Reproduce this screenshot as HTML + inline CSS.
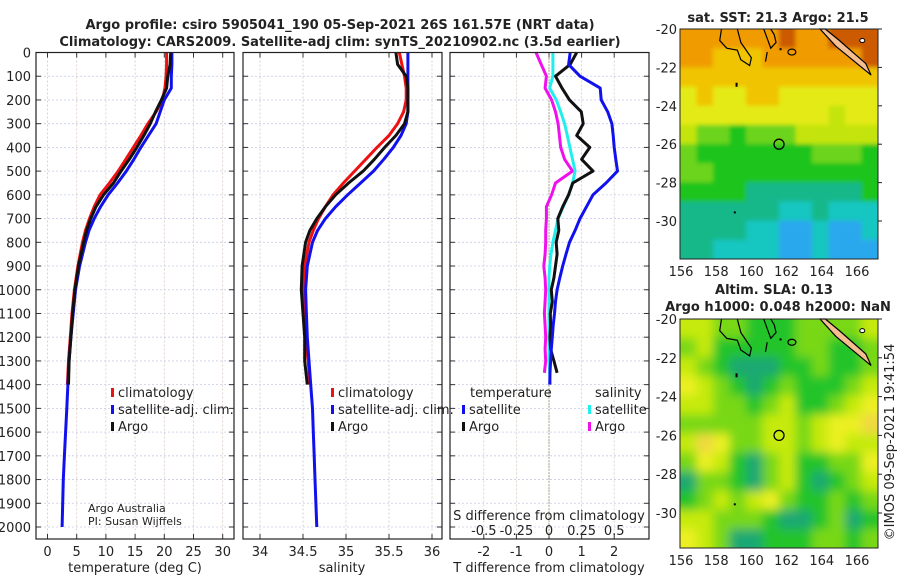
<!DOCTYPE html>
<html><head><meta charset="utf-8"><style>
html,body{margin:0;padding:0;background:#fff;width:900px;height:580px;overflow:hidden}
svg{display:block;font-family:"DejaVu Sans","Liberation Sans",sans-serif}
</style></head><body>
<svg id="c" width="900" height="580" viewBox="0 0 900 580">
<defs>
<filter id="blurS" x="-5%" y="-5%" width="110%" height="110%"><feGaussianBlur stdDeviation="2"/></filter>
<filter id="blurL" x="-5%" y="-5%" width="110%" height="110%"><feGaussianBlur stdDeviation="5"/></filter>
<clipPath id="clipSST"><rect x="680" y="29" width="198" height="230"/></clipPath>
<clipPath id="clipSLA"><rect x="680" y="319" width="198" height="229"/></clipPath>
</defs>
</svg>
<script>
// ---------- data ----------
const depthA = [0,50,100,150,200,250,300,350,400,450,500,550,600,650,700,750,800,900,1000,1100,1200,1300,1400];
const depthB = [0,50,100,150,200,250,300,350,400,450,500,550,600,650,700,750,800,900,1000,1100,1200,1300,1400,1500,1600,1700,1800,1900,2000];
const tClim = [20.4,20.4,20.3,20.1,19.7,18.6,17.2,16.0,14.7,13.4,12.1,10.6,9.0,8.0,7.2,6.5,6.0,5.2,4.6,4.2,3.9,3.6,3.4];
const tArgo = [21.1,21.0,20.6,20.4,19.5,18.5,17.6,16.5,15.3,14.0,12.6,11.3,9.6,8.3,7.4,6.7,6.2,5.3,4.7,4.3,4.0,3.7,3.6];
const tSat = [21.3,21.3,21.2,21.2,20.0,19.3,18.6,17.3,16.0,14.8,13.5,12.0,10.4,9.1,8.0,7.1,6.5,5.5,4.8,4.4,4.0,3.7,3.5,3.3,3.1,2.9,2.7,2.6,2.5];
const sClim = [35.62,35.65,35.68,35.70,35.70,35.67,35.60,35.50,35.36,35.23,35.10,34.97,34.85,34.76,34.68,34.62,34.57,34.52,34.50,34.51,34.53,34.56,34.58];
const sArgo = [35.58,35.60,35.70,35.72,35.72,35.72,35.68,35.58,35.45,35.33,35.20,35.03,34.88,34.76,34.66,34.58,34.53,34.49,34.48,34.50,34.52,34.52,34.55];
const sSat = [35.72,35.72,35.72,35.72,35.72,35.72,35.70,35.64,35.55,35.44,35.32,35.17,35.02,34.88,34.76,34.67,34.61,34.55,34.53,34.54,34.55,34.57,34.59,34.61,34.62,34.63,34.64,34.65,34.66];
const depthD = [0,50,100,150,200,250,300,350,400,450,500,550,600,650,700,750,800,850,900,950,1000,1050,1100,1150,1200,1250,1300,1350,1400];
const tDiffSat = [0.65,0.6,0.95,1.57,1.6,1.8,1.93,1.97,2.0,2.05,2.1,1.75,1.35,1.15,0.95,0.8,0.63,0.52,0.42,0.33,0.25,0.2,0.17,0.13,0.1,0.07,0.05,0.03,0.02];
const tDiffArgo = [0.85,0.65,0.2,0.4,0.63,0.99,1.05,0.85,1.25,1.0,1.35,0.73,0.6,0.42,0.27,0.3,0.22,0.25,0.2,0.15,0.07,0.1,0.04,0.05,0.03,0.05,0.15,0.25];
const sDiffSat = [0.03,0.03,0.03,0.005,0.056,0.09,0.12,0.14,0.16,0.18,0.2,0.18,0.15,0.11,0.07,0.05,0.03,0.015,0.005,0,0,0,0,0,0,0,0,0.005,0.01];
const sDiffArgo = [-0.1,-0.06,-0.02,-0.03,0.02,0.05,0.07,0.08,0.09,0.12,0.18,0.05,0.02,-0.02,-0.02,-0.025,-0.025,-0.03,-0.04,-0.03,-0.025,-0.03,-0.035,-0.03,-0.025,-0.03,-0.025,-0.035];
const depthTicks = [0,100,200,300,400,500,600,700,800,900,1000,1100,1200,1300,1400,1500,1600,1700,1800,1900,2000];
const tTicks = [0,5,10,15,20,25,30];
const sTicks = [34,34.5,35,35.5,36];
const tdTicks = [-2,-1,0,1,2];
const sdTicks = [-0.5,-0.25,0,0.25,0.5];
const latTicks = [-20,-22,-24,-26,-28,-30];
const lonTicks = [156,158,160,162,164,166];
const sstGrid = [
[9,9,9,9,9,9,10,9,9,10,10,10],
[9,9,8,8,8,9,9,9,9,9,9,10],
[8,8,8,8,8,8,8,8,8,8,8,8],
[7,8,7,7,8,8,7,7,7,7,7,7],
[7,7,7,7,7,7,7,7,7,6,7,7],
[6,5,5,4,5,5,5,6,6,6,6,6],
[5,4,4,4,4,4,4,4,5,5,5,4],
[5,5,4,4,4,4,4,4,4,4,4,4],
[4,4,4,4,3,3,3,3,3,3,3,4],
[3,3,3,3,3,3,2,2,3,2,2,2],
[3,3,3,3,2,2,1,1,2,1,1,2],
[3,3,2,2,2,2,1,1,2,1,1,1]];
const slaGrid = [
[6,6,5,5,4,4,4,5,5,5,5,6],
[5,6,4,4,4,4,4,5,5,4,4,5],
[6,5,4,3,3,3,4,4,5,4,4,5],
[7,6,5,4,3,4,5,4,4,4,5,6],
[6,6,5,5,4,5,6,4,4,5,6,7],
[5,5,5,5,5,6,6,5,6,7,7,8],
[6,8,7,5,5,6,6,5,6,7,6,6],
[5,7,6,4,3,5,6,4,4,5,5,7],
[3,5,5,4,3,5,6,4,3,4,5,6],
[4,5,6,5,6,7,5,4,4,5,4,5],
[6,6,5,5,5,4,3,3,4,5,3,4],
[7,6,5,3,3,4,4,4,5,5,4,5]];
const sstColors = ['#1e6ee8','#2aa8ee','#12c6c0','#18b88a','#1ec41e','#6cd41a','#c4e40c','#e4ea14','#f0c400','#f09c00','#cc5a00'];
const slaColors = ['#1e6ee8','#2aa8ee','#12c6c0','#1aa872','#22c42a','#78d818','#c6ea10','#ecf020','#f0d840'];

// ---------- helpers ----------
const svg = document.getElementById('c');
const NS = 'http://www.w3.org/2000/svg';
function mk(tag, attrs, parent){const e=document.createElementNS(NS,tag);for(const k in attrs)e.setAttribute(k,attrs[k]);(parent||svg).appendChild(e);return e;}
function txt(s,x,y,size,anchor,weight,parent){const t=mk('text',{x:x,y:y,'font-size':size,'text-anchor':anchor||'middle','font-weight':weight||'normal',fill:'#222'},parent);t.textContent=s;return t;}
const Y0=52.5, YS=(527-52.5)/2000, PB=539;
const yD = d => Y0 + d*YS;
const xT = v => 47.5 + v*(222.7-47.5)/30;
const xS = v => 260 + (v-34)*86;
const xTD = v => 549 + v*32.6;
const xSD = v => 549 + v*130.4;

function panel(x0,x1,name){
  const g=mk('g',{});
  
  
  depthTicks.forEach(d=>{mk('line',{x1:x0,x2:x1,y1:yD(d),y2:yD(d),stroke:'#c8cce8','stroke-width':0.8,'stroke-dasharray':'2,2'},g);
    mk('line',{x1:x0,x2:x0+5,y1:yD(d),y2:yD(d),stroke:'#333'},g);mk('line',{x1:x1-5,x2:x1,y1:yD(d),y2:yD(d),stroke:'#333'},g);});
  return g;
}
function vgrid(g,ticks,fx){ticks.forEach(v=>{const x=fx(v);mk('line',{x1:x,x2:x,y1:Y0,y2:PB,stroke:'#d8c8c0','stroke-width':0.8,'stroke-dasharray':'2,2'},g);
  mk('line',{x1:x,x2:x,y1:PB-5,y2:PB,stroke:'#333'},g);mk('line',{x1:x,x2:x,y1:Y0,y2:Y0+5,stroke:'#333'},g);});}
function frame(g,x0,x1){mk('rect',{x:x0,y:Y0,width:x1-x0,height:PB-Y0,fill:'none',stroke:'#222','stroke-width':1.2},g);}
function line(g,xs,ds,fx,color,name,w){
  const pts=xs.map((v,i)=>fx(v).toFixed(1)+','+yD(ds[i]).toFixed(1)).join(' ');
  const p=mk('polyline',{points:pts,fill:'none',stroke:color,'stroke-width':w||3,'stroke-linejoin':'round'},g);
  
  
}
function legend(g,x,y,color,label,name){
  mk('rect',{x:x,y:y-9,width:3,height:9,fill:color},g);
  const t=txt(label,x+7,y,13,'start','normal',g);
  
  
}

// titles
let t=txt('Argo profile: csiro 5905041_190 05-Sep-2021 26S 161.57E (NRT data)',340,29,13,'middle','bold');


t=txt('Climatology: CARS2009. Satellite-adj clim: synTS_20210902.nc (3.5d earlier)',340,46,13,'middle','bold');



// panel 1 temperature
let g=panel(36,234,'temperature-panel');
vgrid(g,tTicks,xT);
depthTicks.forEach(d=>txt(String(d),31,yD(d)+5,13,'end','normal',g));
tTicks.forEach(v=>txt(String(v),xT(v),556,13,'middle','normal',g));
t=txt('temperature (deg C)',135,572,13,'middle','normal',g);


line(g,tClim,depthA,xT,'#ee1111','temperature-climatology-line');
line(g,tSat,depthB,xT,'#1111ee','temperature-satellite-adj-line');
line(g,tArgo,depthA,xT,'#111','temperature-argo-line');
frame(g,36,234);
legend(g,111,397,'#ee1111','climatology','legend-climatology');
legend(g,111,414,'#1111ee','satellite-adj. clim.','legend-satellite-adj');
legend(g,111,431,'#111','Argo','legend-argo');
txt('Argo Australia',88,512,11,'start','normal',g);
txt('PI: Susan Wijffels',88,525,11,'start','normal',g);

// panel 2 salinity
g=panel(243,442,'salinity-panel');
vgrid(g,sTicks,xS);
sTicks.forEach(v=>txt(String(v),xS(v),556,13,'middle','normal',g));
t=txt('salinity',342,572,13,'middle','normal',g);


line(g,sClim,depthA,xS,'#ee1111','salinity-climatology-line');
line(g,sSat,depthB,xS,'#1111ee','salinity-satellite-adj-line');
line(g,sArgo,depthA,xS,'#111','salinity-argo-line');
frame(g,243,442);
legend(g,331,397,'#ee1111','climatology','legend-s-climatology');
legend(g,331,414,'#1111ee','satellite-adj. clim.','legend-s-satellite-adj');
legend(g,331,431,'#111','Argo','legend-s-argo');

// panel 3 differences
g=panel(450,649,'difference-panel');
vgrid(g,tdTicks,xTD);
mk('line',{x1:549,x2:549,y1:Y0,y2:PB,stroke:'#556b2f','stroke-width':1,'stroke-dasharray':'1,2'},g);
tdTicks.forEach(v=>txt(String(v),xTD(v),556,13,'middle','normal',g));
sdTicks.forEach(v=>txt(String(v),xSD(v),535,13,'middle','normal',g));
txt('S difference from climatology',549,520,13,'middle','normal',g);
t=txt('T difference from climatology',549,572,13,'middle','normal',g);


line(g,sDiffArgo,depthD.slice(0,sDiffArgo.length),xSD,'#ee11ee','salinity-argo-diff-line');
line(g,sDiffSat,depthD,xSD,'#22eeee','salinity-satellite-diff-line');
line(g,tDiffArgo,depthD.slice(0,tDiffArgo.length),xTD,'#111','temperature-argo-diff-line');
line(g,tDiffSat,depthD,xTD,'#1111ee','temperature-satellite-diff-line');
txt('temperature',470,397,13,'start','normal',g);
txt('salinity',595,397,13,'start','normal',g);
legend(g,462,414,'#1111ee','satellite','legend-t-satellite');
legend(g,462,431,'#111','Argo','legend-t-argo');
legend(g,588,414,'#22eeee','satellite','legend-s-satellite');
legend(g,588,431,'#ee11ee','Argo','legend-s-argo-diff');
frame(g,450,649);

// maps
function map(top,bottom,grid,colors,name,latScale,clipId,blurId){
  const mx0=680,mx1=878;
  const mg=mk('g',{});
  
  
  const cg=mk('g',{'clip-path':'url(#'+clipId+')'},mg);
  const bg=mk('g',{filter:'url(#'+blurId+')'},cg);
  const cw=(mx1-mx0)/grid[0].length, ch=(bottom-top)/grid.length;
  grid.forEach((row,r)=>row.forEach((v,c)=>{
    const x=mx0+c*cw - (c===0?10:0), w=cw+0.5+(c===0?10:0)+(c===grid[0].length-1?10:0);
    const y=top+r*ch - (r===0?10:0), h=ch+0.5+(r===0?10:0)+(r===grid.length-1?10:0);
    const cell=mk('rect',{x:x,y:y,width:w,height:h,fill:colors[v]},bg);
    
    
  }));
  const lx=v=>681+(v-156)*17.6, ly=v=>top+(-20-v)*latScale;
  // coastlines
  mk('path',{d:`M${lx(158.3)},${top} L${lx(158.2)},${ly(-20.6)} L${lx(158.6)},${ly(-21.0)} L${lx(159.2)},${ly(-21.1)} L${lx(159.4)},${ly(-21.6)} L${lx(159.9)},${ly(-21.9)} L${lx(160.0)},${ly(-21.5)} L${lx(159.4)},${ly(-20.7)} L${lx(159.2)},${top}`,fill:'none',stroke:'#000','stroke-width':1.2},mg);
  mk('path',{d:`M${lx(160.7)},${top} L${lx(160.9)},${ly(-20.5)} L${lx(161.1)},${ly(-21.0)} L${lx(161.4)},${ly(-20.7)} L${lx(161.3)},${ly(-20.3)} L${lx(161.1)},${top}`,fill:'none',stroke:'#000','stroke-width':1.2},mg);
  mk('path',{d:`M${lx(160.9)},${ly(-21.2)} L${lx(160.8)},${ly(-21.7)}`,fill:'none',stroke:'#000','stroke-width':1.2},mg);
  mk('ellipse',{cx:lx(162.3),cy:ly(-21.2),rx:4,ry:3,fill:'none',stroke:'#000','stroke-width':1.2},mg);
  mk('rect',{x:lx(161.6),y:ly(-21),width:2,height:2,fill:'#000'},mg);
  mk('rect',{x:lx(159.1),y:ly(-22.8),width:2,height:4,fill:'#000'},mg);
  mk('rect',{x:lx(159),y:ly(-29.5),width:2,height:2,fill:'#000'},mg);
  mk('path',{d:`M${lx(163.9)},${top} L${lx(164.8)},${ly(-20.9)} L${lx(166.8)},${ly(-22.4)} L${lx(166.5)},${ly(-21.8)} L${lx(165)},${ly(-20.6)} L${lx(164.2)},${top} Z`,fill:'#f4be90',stroke:'#000','stroke-width':1.2},mg);
  mk('ellipse',{cx:lx(166.3),cy:ly(-20.6),rx:2.5,ry:2,fill:'#fff',stroke:'#000'},mg);
  mk('circle',{cx:lx(161.57),cy:ly(-26),r:5,fill:'none',stroke:'#000','stroke-width':1.3},mg);
  mk('rect',{x:mx0,y:top,width:mx1-mx0,height:bottom-top,fill:'none',stroke:'#222','stroke-width':1},mg);
  latTicks.forEach(v=>{mk('line',{x1:mx1,x2:mx1+4,y1:ly(v),y2:ly(v),stroke:'#222'},mg);txt(String(v),677,ly(v)+5,13,'end','normal',mg);});
  lonTicks.forEach(v=>txt(String(v),lx(v),bottom+17,13,'middle','normal',mg));
  return mg;
}
map(29,259,sstGrid,sstColors,'sst-map',19.2,'clipSST','blurS');
t=txt('sat. SST: 21.3 Argo: 21.5',778,22,13,'middle','bold');


map(319,548,slaGrid,slaColors,'sla-map',19.4,'clipSLA','blurL');
t=txt('Altim. SLA: 0.13',774,294,13,'middle','bold');


t=txt('Argo h1000: 0.048 h2000: NaN',778,311,13,'middle','bold');


t=txt('©IMOS 09-Sep-2021 19:41:54',0,0,13,'middle','normal');
t.setAttribute('transform','translate(894,442) rotate(-90)');


</script>
</body></html>
